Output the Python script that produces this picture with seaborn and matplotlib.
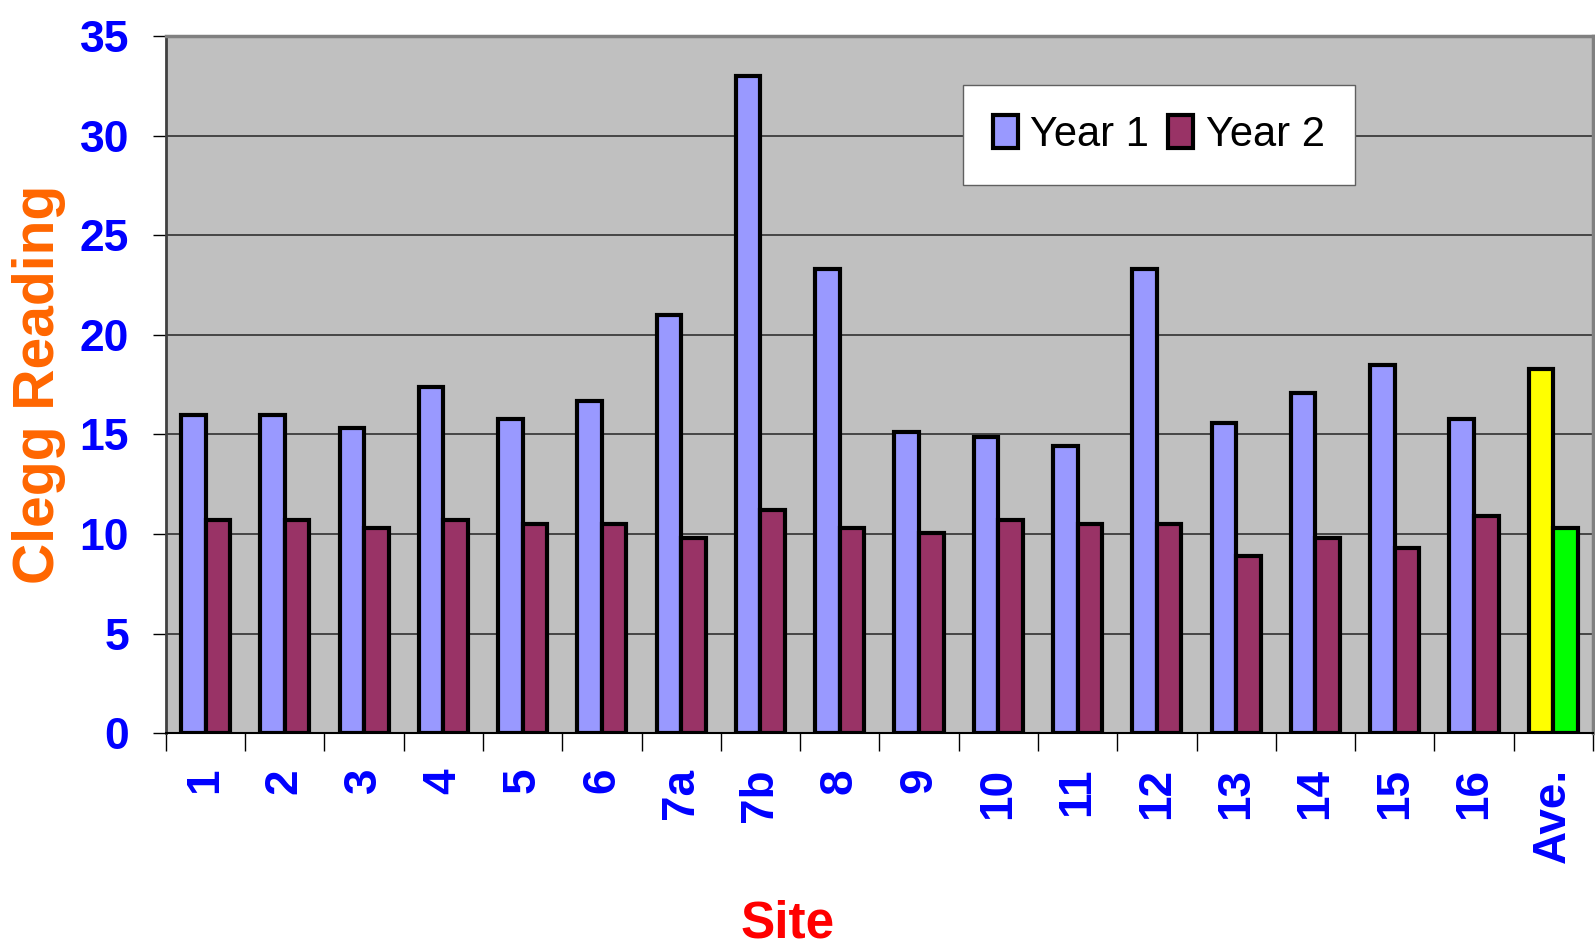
import numpy as np
import pandas as pd
import seaborn as sns
import matplotlib.pyplot as plt
from matplotlib.ticker import FixedLocator

sites = ['1', '2', '3', '4', '5', '6', '7a', '7b', '8', '9', '10', '11',
         '12', '13', '14', '15', '16', 'Ave.']
year1 = [16.0, 16.0, 15.3, 17.4, 15.8, 16.7, 21.0, 33.0, 23.3, 15.1, 14.85,
         14.4, 23.3, 15.6, 17.1, 18.5, 15.8, 18.3]
year2 = [10.7, 10.7, 10.3, 10.7, 10.5, 10.5, 9.8, 11.2, 10.3, 10.05, 10.7,
         10.5, 10.5, 8.9, 9.8, 9.3, 10.9, 10.3]
series = ['Year 1', 'Year 2']
colors = {'Year 1': '#9999FF', 'Year 2': '#993366'}
ave_colors = ['#FFFF00', '#00FF00']

df = pd.DataFrame({'Site': sites * 2,
                   'Reading': year1 + year2,
                   'Year': [series[0]] * len(sites) + [series[1]] * len(sites)})

sns.set_theme(style="white")
plt.rcParams['font.family'] = ['Liberation Sans', 'DejaVu Sans']

fig = plt.figure(figsize=(15.95, 9.51), dpi=100)
ax = fig.add_axes([0.104, 0.229, 0.8947, 0.733])
ax.set_facecolor('#C0C0C0')

sns.barplot(data=df, x='Site', y='Reading', hue='Year', order=sites,
            palette=colors, saturation=1, width=0.62, edgecolor='black',
            linewidth=3, ax=ax, zorder=3)

# the average bars get their own colours
for cont, c in zip(ax.containers, ave_colors):
    cont[-1].set_facecolor(c)

ax.set_ylim(0, 35)
ax.set_xlim(-0.5, len(sites) - 0.5)
ax.set_yticks(np.arange(0, 36, 5))
ax.yaxis.grid(True, color='#303030', linewidth=1.2, zorder=0)
ax.set_axisbelow(True)

# y ticks
ax.tick_params(axis='y', which='major', direction='out', length=9.5, width=1,
               color='black', pad=17, left=True, labelsize=32,
               labelcolor='#0000FF')
for t in ax.get_yticklabels():
    t.set_fontweight('bold')

# x ticks: marks between categories, labels rotated
ax.xaxis.set_minor_locator(FixedLocator(np.arange(-0.5, len(sites), 1.0)))
ax.tick_params(axis='x', which='minor', direction='out', length=13, width=1,
               color='black', bottom=True)
ax.tick_params(axis='x', which='major', length=0, pad=25, labelsize=33,
               labelcolor='#0000FF')
for t in ax.get_xticklabels():
    t.set_rotation(90)
    t.set_va('top')
    t.set_fontweight('bold')

ax.set_xlabel('Site', fontsize=37, fontweight='bold', color='#FF0000')
ax.xaxis.set_label_coords(0.436, -0.238)
ax.set_ylabel('Clegg Reading', fontsize=41, fontweight='bold', color='#FF6600')
ax.yaxis.label.set_va('center')
ax.yaxis.set_label_coords(-0.089, 0.5)

for side in ['top', 'right']:
    ax.spines[side].set_color('#808080')
    ax.spines[side].set_linewidth(2.5)
ax.spines['left'].set_color('#404040')
ax.spines['left'].set_linewidth(2)
ax.spines['bottom'].set_color('black')
ax.spines['bottom'].set_linewidth(1.5)

handles, labels = ax.get_legend_handles_labels()
leg = ax.legend(handles, labels, ncol=2, loc='upper left',
                bbox_to_anchor=(0.5585, 0.93), borderaxespad=0,
                frameon=True, fancybox=False, facecolor='white',
                edgecolor='#606060', framealpha=1, fontsize=30,
                handlelength=0.6, handleheight=0.85, handletextpad=0.3,
                columnspacing=0.45, borderpad=0.72)
for t in leg.get_texts():
    t.set_color('black')

fig.savefig('out.png', dpi=100)
